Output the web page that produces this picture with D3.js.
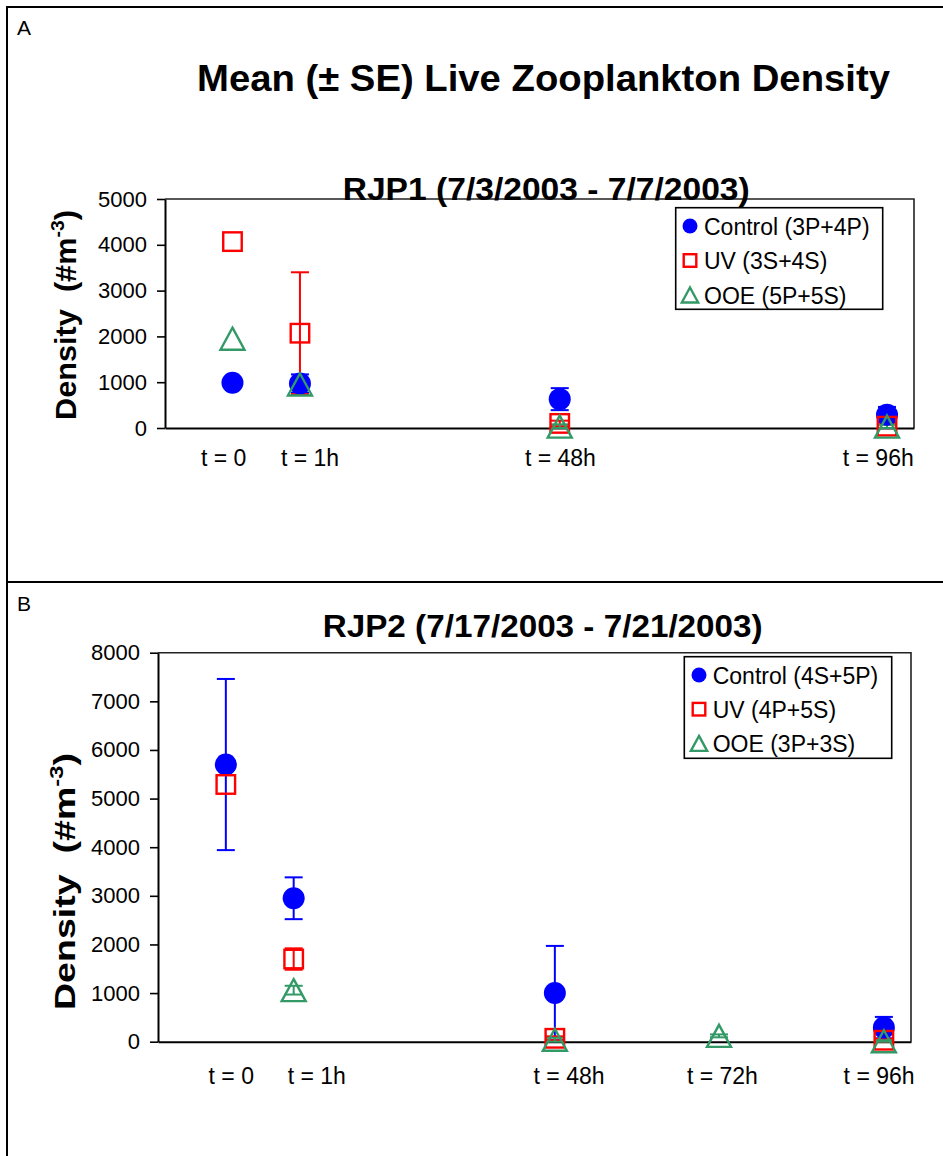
<!DOCTYPE html>
<html>
<head>
<meta charset="utf-8">
<script src="https://cdn.jsdelivr.net/npm/d3@7/dist/d3.min.js"></script>
<style>
  html, body { margin: 0; padding: 0; background: #fff; }
  svg { display: block; }
</style>
</head>
<body>
<script>
// ---------------- DATA ----------------
const mainTitle = "Mean (\u00B1 SE) Live Zooplankton Density";

// Panel A
const titleA = "RJP1 (7/3/2003 - 7/7/2003)";
const catsA = ["t = 0", "t = 1h", "t = 48h", "t = 96h"];
const xPosA = [1, 2, 5.85, 10.7];          // position of each sampling time on the category axis
const labelPosA = [0.87, 2.15, 5.86, 10.57]; // position of the category labels
const yTicksA = [0, 1000, 2000, 3000, 4000, 5000];
const legendA = ["Control (3P+4P)", "UV (3S+4S)", "OOE (5P+5S)"];
const controlA = [990, 970, 630, 290];
const controlSEA = [0, 200, 240, 170];
const uvA = [4070, 2070, 100, 40];
const uvSEA = [0, 1330, 60, 40];
const ooeA = [1950, 950, 30, 30];
const ooeSEA = [0, 60, 50, 40];

// Panel B
const titleB = "RJP2 (7/17/2003 - 7/21/2003)";
const catsB = ["t = 0", "t = 1h", "t = 48h", "t = 72h", "t = 96h"];
const xPosB = [1, 2, 5.85, 8.27, 10.7];
const labelPosB = [1.08, 2.34, 6.06, 8.32, 10.63];
const yTicksB = [0, 1000, 2000, 3000, 4000, 5000, 6000, 7000, 8000];
const legendB = ["Control (4S+5P)", "UV (4P+5S)", "OOE (3P+3S)"];
const controlB = [5700, 2950, 1000, null, 290];
const controlSEB = [1760, 430, 970, null, 220];
const uvB = [5290, 1700, 70, null, 30];
const uvSEB = [0, 220, 40, null, 30];
const ooeB = [null, 1060, 40, 120, 10];
const ooeSEB = [null, 90, 40, 30, 20];

// ---------------- STYLE ----------------
const FONT = "'Liberation Sans', Arial, Helvetica, sans-serif";
const BLUE = "#0000FF", RED = "#FF0000", GREEN = "#339966";

const W = 943, H = 1156;
const svg = d3.select("body").append("svg")
  .attr("width", W).attr("height", H)
  .attr("viewBox", `0 0 ${W} ${H}`)
  .style("font-family", FONT);

svg.append("rect").attr("width", W).attr("height", H).attr("fill", "#fff");

// outer frames
svg.append("rect").attr("x", 7).attr("y", 7).attr("width", W + 10).attr("height", 575)
  .attr("fill", "none").attr("stroke", "#000").attr("stroke-width", 2);
svg.append("rect").attr("x", 7).attr("y", 582).attr("width", W + 10).attr("height", 600)
  .attr("fill", "none").attr("stroke", "#000").attr("stroke-width", 2);

svg.append("text").attr("x", 17).attr("y", 35).attr("font-size", 21).text("A");
svg.append("text").attr("x", 17).attr("y", 611).attr("font-size", 21).text("B");

svg.append("text").attr("x", 197).attr("y", 91)
  .attr("font-size", 37).attr("font-weight", "bold")
  .attr("textLength", 693).attr("lengthAdjust", "spacingAndGlyphs")
  .text(mainTitle);

function panel(cfg) {
  const x = d3.scaleLinear().domain([0, 11.1]).range([cfg.left, cfg.right]);
  const y = d3.scaleLinear().domain([0, cfg.yMax]).range([cfg.bottom, cfg.top]);
  const g = svg.append("g");

  // plot area border (top & right)
  g.append("path")
    .attr("d", `M${cfg.left},${cfg.top}H${cfg.right}V${cfg.bottom}`)
    .attr("fill", "none").attr("stroke", "#222").attr("stroke-width", 1.6);

  // y axis
  const ya = g.append("g").attr("transform", `translate(${cfg.left},0)`)
    .call(d3.axisLeft(y).tickValues(cfg.yTicks).tickSize(8).tickSizeOuter(0)
      .tickPadding(10).tickFormat(d3.format("d")));
  ya.select(".domain").attr("stroke", "#000").attr("stroke-width", 2);
  ya.selectAll(".tick line").attr("stroke", "#000").attr("stroke-width", 1.6);
  ya.selectAll(".tick text").attr("font-size", 22).attr("font-family", FONT).attr("fill", "#000");

  // x axis (baseline without ticks)
  const xa = g.append("g").attr("transform", `translate(0,${cfg.bottom})`)
    .call(d3.axisBottom(x).tickValues([]).tickSizeOuter(0));
  xa.select(".domain").attr("stroke", "#000").attr("stroke-width", 2);

  // category labels
  g.selectAll(".catlab").data(cfg.cats).enter().append("text")
    .attr("class", "catlab")
    .attr("x", (d, i) => x(cfg.labelPos[i]))
    .attr("y", cfg.labelY)
    .attr("text-anchor", "middle").attr("font-size", 23)
    .text(d => d);

  // y axis title
  const yt = g.append("text")
    .attr("transform", `translate(${cfg.yTitleX},${cfg.yTitleMid}) rotate(-90)`)
    .attr("text-anchor", "middle").attr("font-size", 30).attr("font-weight", "bold")
    .attr("textLength", cfg.yTitleLen).attr("lengthAdjust", "spacingAndGlyphs");
  yt.append("tspan").text("Density\u00A0\u00A0(#m");
  yt.append("tspan").attr("font-size", 19).attr("dy", -12).text("-3");
  yt.append("tspan").attr("dy", 12).text(")");

  // subtitle
  g.append("text").attr("x", cfg.subX).attr("y", cfg.subY)
    .attr("font-size", 31).attr("font-weight", "bold")
    .attr("textLength", cfg.subLen).attr("lengthAdjust", "spacingAndGlyphs")
    .text(cfg.title);

  const series = [
    { vals: cfg.control, se: cfg.controlSE, color: BLUE, shape: "circle" },
    { vals: cfg.uv, se: cfg.uvSE, color: RED, shape: "square" },
    { vals: cfg.ooe, se: cfg.ooeSE, color: GREEN, shape: "triangle" }
  ];

  // error bars first
  series.forEach(s => {
    const pts = s.vals.map((v, i) => ({ v, se: s.se[i], xp: cfg.xPos[i] }))
      .filter(p => p.v != null && p.se > 0);
    const eg = g.append("g").attr("stroke", s.color).attr("stroke-width", 2).attr("fill", "none");
    pts.forEach(p => {
      const cx = x(p.xp);
      const lo = Math.max(0, p.v - p.se), hi = p.v + p.se;
      eg.append("line").attr("x1", cx).attr("x2", cx).attr("y1", y(lo)).attr("y2", y(hi));
      eg.append("line").attr("x1", cx - 9).attr("x2", cx + 9).attr("y1", y(hi)).attr("y2", y(hi));
      eg.append("line").attr("x1", cx - 9).attr("x2", cx + 9).attr("y1", y(lo)).attr("y2", y(lo));
    });
  });

  // markers
  series.forEach(s => {
    const pts = s.vals.map((v, i) => ({ v, xp: cfg.xPos[i] })).filter(p => p.v != null);
    pts.forEach(p => drawMarker(g, s.shape, s.color, x(p.xp), y(p.v), 1));
  });

  // legend
  const L = cfg.legend;
  g.append("rect").attr("x", L.x0).attr("y", L.y0).attr("width", L.x1 - L.x0).attr("height", L.y1 - L.y0)
    .attr("fill", "#fff").attr("stroke", "#000").attr("stroke-width", 1.6);
  cfg.legendLabels.forEach((lab, i) => {
    const ry = L.rowY0 + i * L.rowStep;
    drawMarker(g, series[i].shape, series[i].color, L.mx, ry, 0.68);
    g.append("text").attr("x", L.tx).attr("y", ry + 8.5).attr("font-size", 23).text(lab);
  });
}

function drawMarker(g, shape, color, cx, cy, k) {
  if (shape === "circle") {
    g.append("circle").attr("cx", cx).attr("cy", cy).attr("r", 11 * k).attr("fill", color);
  } else if (shape === "square") {
    const s = 18.5 * k;
    g.append("rect").attr("x", cx - s / 2).attr("y", cy - s / 2).attr("width", s).attr("height", s)
      .attr("fill", "none").attr("stroke", color).attr("stroke-width", 2.4);
  } else {
    const w = 24 * k, h = 22 * k;
    g.append("path")
      .attr("d", `M${cx},${cy - h / 2}L${cx + w / 2},${cy + h / 2}L${cx - w / 2},${cy + h / 2}Z`)
      .attr("fill", "none").attr("stroke", color).attr("stroke-width", 2.4).attr("stroke-linejoin", "miter");
  }
}

panel({
  left: 165, right: 914, top: 199, bottom: 428, yMax: 5000, yTicks: yTicksA,
  cats: catsA, xPos: xPosA, labelPos: labelPosA, labelY: 466,
  yTitleX: 76, yTitleMid: 315, yTitleLen: 210,
  subX: 342.7, subY: 199.5, subLen: 407, title: titleA,
  control: controlA, controlSE: controlSEA, uv: uvA, uvSE: uvSEA, ooe: ooeA, ooeSE: ooeSEA,
  legendLabels: legendA,
  legend: { x0: 675.7, x1: 882.7, y0: 207.7, y1: 309.3, mx: 690, tx: 704, rowY0: 226, rowStep: 34.5 }
});

panel({
  left: 158, right: 911, top: 652.7, bottom: 1041.7, yMax: 8000, yTicks: yTicksB,
  cats: catsB, xPos: xPosB, labelPos: labelPosB, labelY: 1084,
  yTitleX: 75, yTitleMid: 881.5, yTitleLen: 257,
  subX: 322.7, subY: 637.3, subLen: 440, title: titleB,
  control: controlB, controlSE: controlSEB, uv: uvB, uvSE: uvSEB, ooe: ooeB, ooeSE: ooeSEB,
  legendLabels: legendB,
  legend: { x0: 684.3, x1: 891.7, y0: 656.7, y1: 758.3, mx: 699, tx: 712.7, rowY0: 675, rowStep: 34.2 }
});
</script>
</body>
</html>
